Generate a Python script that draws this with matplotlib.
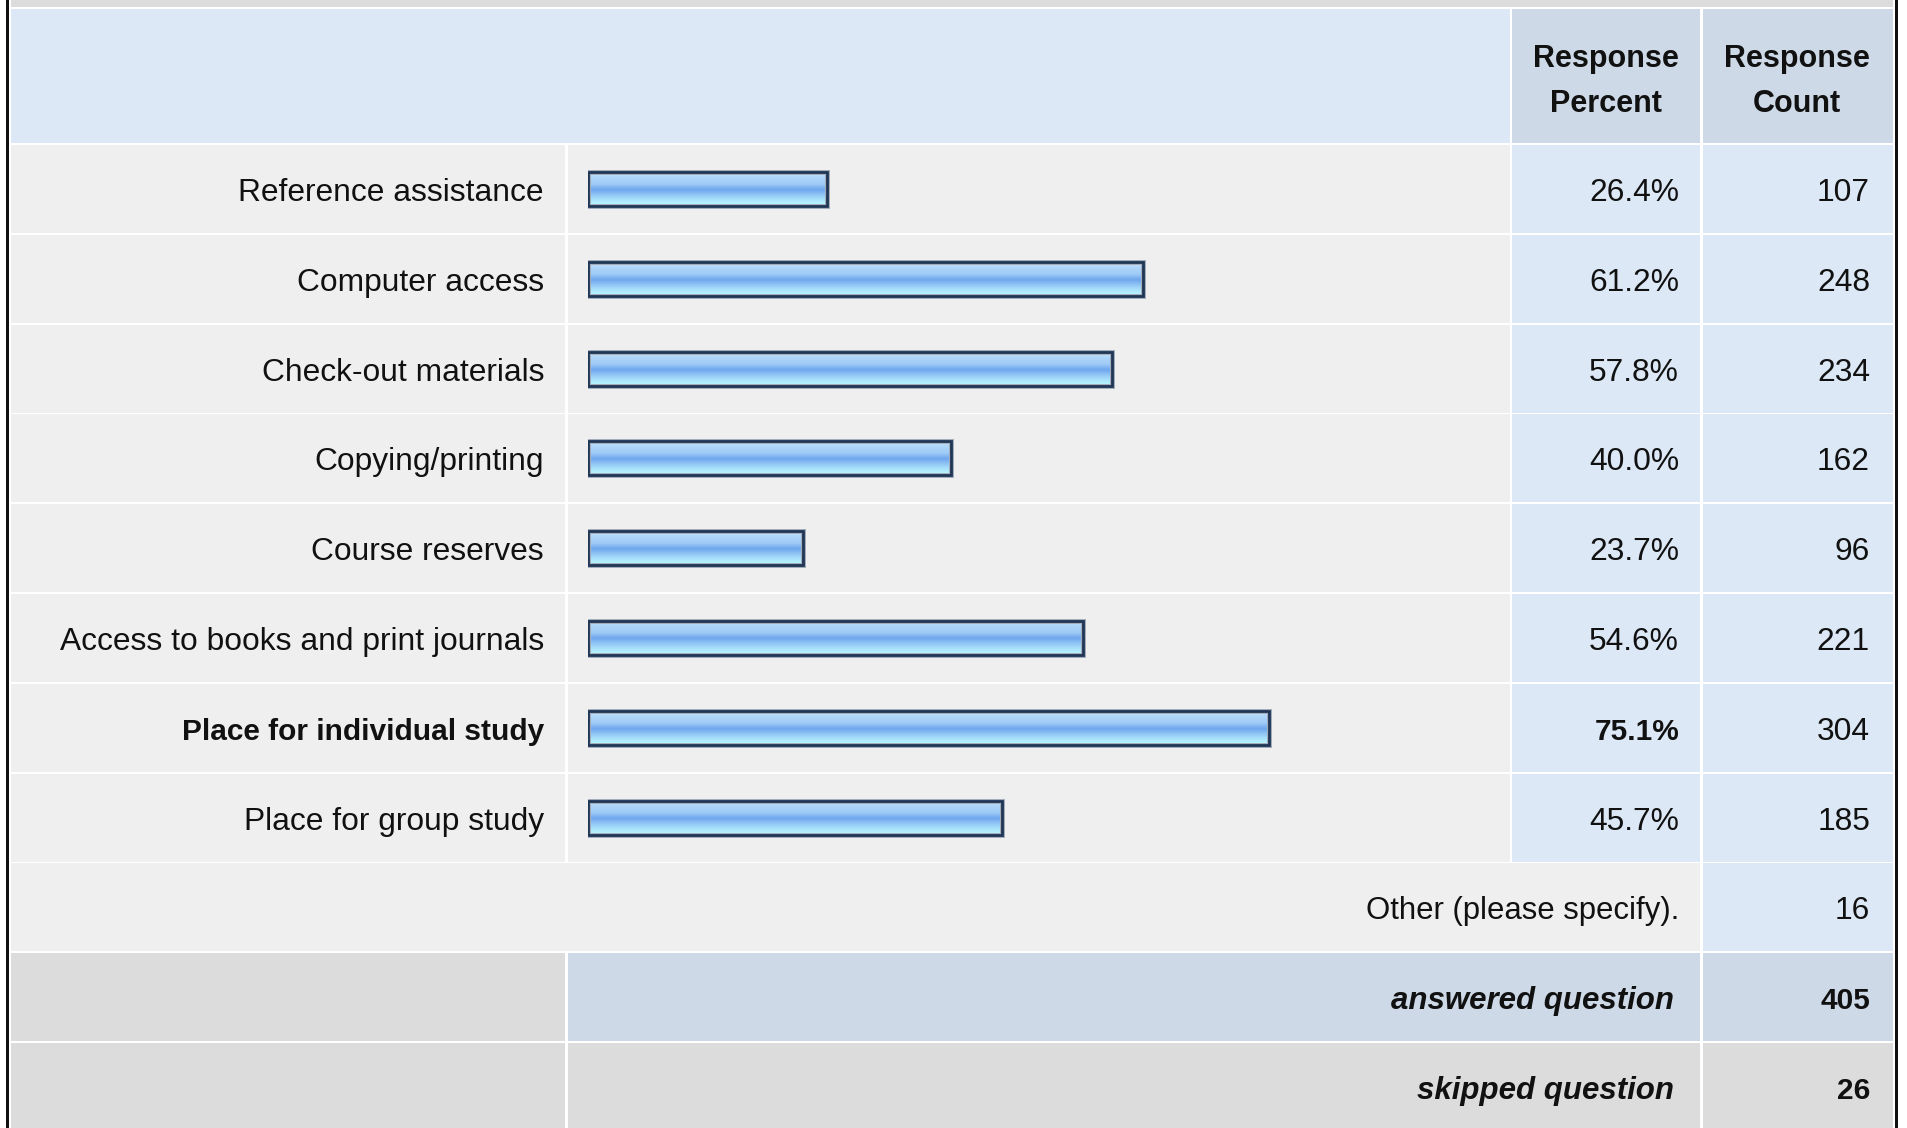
import matplotlib
matplotlib.use("Agg")
import matplotlib.pyplot as plt
import numpy as np
from matplotlib.patches import Rectangle
from matplotlib.colors import LinearSegmentedColormap
import matplotlib.patheffects as pe

# ---------------- data ----------------
categories = [
    "Reference assistance",
    "Computer access",
    "Check-out materials",
    "Copying/printing",
    "Course reserves",
    "Access to books and print journals",
    "Place for individual study",
    "Place for group study",
]
percents = [26.4, 61.2, 57.8, 40.0, 23.7, 54.6, 75.1, 45.7]
counts = [107, 248, 234, 162, 96, 221, 304, 185]
other_label = "Other (please specify)."
other_count = 16
answered_label = "answered question"
answered_count = 405
skipped_label = "skipped question"
skipped_count = 26
header_percent = ["Response", "Percent"]
header_count = ["Response", "Count"]

# ---------------- layout ----------------
W, H = 1907, 1128
FONT = "Liberation Sans"
FS = 22.9        # regular text
FS_B = 21.5      # bold labels / values
FS_H = 22.0      # header
FS_BI = 22.5     # bold italic footer

C_LIGHT = "#efefef"
C_BLUE = "#dce8f5"
C_STEEL = "#cdd9e6"
C_GRAY = "#dcdcdc"
TXT = "#111111"

fig = plt.figure(figsize=(W / 100, H / 100), dpi=100)
fig.patch.set_facecolor("white")
ax = fig.add_axes([0, 0, 1, 1])
ax.set_xlim(0, W)
ax.set_ylim(H, 0)
ax.axis("off")


def cell(x0, x1, y0, y1, color):
    ax.add_patch(Rectangle((x0, y0), x1 - x0, y1 - y0, facecolor=color,
                           edgecolor="none", zorder=1))


L0, L1 = 11, 565
B0, B1 = 568, 1510
P0, P1 = 1512, 1700
C0, C1 = 1703, 1893
ROW_TOP = 145
ROW_STEP = 89.8
ROW_H = 88
CAP_HALF = 12

# outer border lines
ax.add_patch(Rectangle((6, 0), 3, H, facecolor="#111111", edgecolor="none", zorder=5))
ax.add_patch(Rectangle((1895, 0), 3, H, facecolor="#111111", edgecolor="none", zorder=5))

# top band (previous row)
cell(L0, C1, 0, 7, C_GRAY)

# header
cell(L0, B1, 9, 143, C_BLUE)
cell(P0, P1, 9, 143, C_STEEL)
cell(C0, C1, 9, 143, C_STEEL)
for xc, lines in ((1606, header_percent), (1797, header_count)):
    ax.text(xc, 67, lines[0], ha="center", va="baseline", fontsize=FS_H,
            fontweight="bold", family=FONT, color=TXT, zorder=6)
    ax.text(xc, 112, lines[1], ha="center", va="baseline", fontsize=FS_H,
            fontweight="bold", family=FONT, color=TXT, zorder=6)

n = len(categories)
best = int(np.argmax(percents))

for i, (cat, pct, cnt) in enumerate(zip(categories, percents, counts)):
    y0 = ROW_TOP + i * ROW_STEP
    y1 = y0 + ROW_H
    yc = y0 + 44
    cell(L0, L1, y0, y1, C_LIGHT)
    cell(B0, B1, y0, y1, C_LIGHT)
    cell(P0, P1, y0, y1, C_BLUE)
    cell(C0, C1, y0, y1, C_BLUE)
    is_best = i == best
    w = "bold" if is_best else "normal"
    fs = FS_B if is_best else FS
    ax.text(544, yc + CAP_HALF, cat, ha="right", va="baseline", fontsize=fs,
            fontweight=w, family=FONT, color=TXT, zorder=6)
    ax.text(1679, yc + CAP_HALF, f"{pct:.1f}%", ha="right", va="baseline",
            fontsize=fs, fontweight=w, family=FONT, color=TXT, zorder=6)
    ax.text(1870, yc + CAP_HALF, f"{cnt}", ha="right", va="baseline",
            fontsize=FS, family=FONT, color=TXT, zorder=6)

# Other row
y0 = ROW_TOP + n * ROW_STEP
cell(L0, P1, y0, y0 + ROW_H, C_LIGHT)
cell(C0, C1, y0, y0 + ROW_H, C_BLUE)
ax.text(1679, y0 + 44 + CAP_HALF, other_label, ha="right", va="baseline",
        fontsize=22.4, family=FONT, color=TXT, zorder=6)
ax.text(1870, y0 + 44 + CAP_HALF, f"{other_count}", ha="right", va="baseline",
        fontsize=FS, family=FONT, color=TXT, zorder=6)

# answered row
y0 = ROW_TOP + (n + 1) * ROW_STEP
cell(L0, L1, y0, y0 + ROW_H, C_GRAY)
cell(B0, P1, y0, y0 + ROW_H, C_STEEL)
cell(C0, C1, y0, y0 + ROW_H, C_STEEL)
ax.text(1674, y0 + 44 + CAP_HALF, answered_label, ha="right", va="baseline",
        fontsize=FS_BI, fontweight="bold", style="italic", family=FONT,
        color=TXT, zorder=6)
ax.text(1870, y0 + 44 + CAP_HALF, f"{answered_count}", ha="right", va="baseline",
        fontsize=FS_B, fontweight="bold", family=FONT, color=TXT, zorder=6)

# skipped row
y0 = ROW_TOP + (n + 2) * ROW_STEP
cell(L0, L1, y0, y0 + ROW_H, C_GRAY)
cell(B0, P1, y0, y0 + ROW_H, C_GRAY)
cell(C0, C1, y0, y0 + ROW_H, C_GRAY)
ax.text(1674, y0 + 44 + CAP_HALF, skipped_label, ha="right", va="baseline",
        fontsize=FS_BI, fontweight="bold", style="italic", family=FONT,
        color=TXT, zorder=6)
ax.text(1870, y0 + 44 + CAP_HALF, f"{skipped_count}", ha="right", va="baseline",
        fontsize=FS_B, fontweight="bold", family=FONT, color=TXT, zorder=6)

# ---------------- bar axes ----------------
BAR_X0, BAR_X100 = 588, 1495
top_px = ROW_TOP - 0.9
bot_px = top_px + n * ROW_STEP
axb = fig.add_axes([BAR_X0 / W, 1 - bot_px / H, (BAR_X100 - BAR_X0) / W,
                    (bot_px - top_px) / H])
axb.patch.set_visible(False)
axb.axis("off")

bh = 34 / ROW_STEP
ypos = np.arange(n)
bars = axb.barh(ypos, percents, height=bh, left=0, facecolor="none",
                edgecolor="#1f3655", linewidth=2.0, zorder=3)

grad_cmap = LinearSegmentedColormap.from_list(
    "barg",
    [(0.0, "#d2eafd"), (0.12, "#b2d8f9"), (0.35, "#9fcbf6"), (0.52, "#6ea6ee"),
     (0.66, "#8fc3f4"), (0.82, "#a9e2fb"), (1.0, "#bafaff")])
grad = np.linspace(0, 1, 64).reshape(-1, 1)
for yi, b, v in zip(ypos, bars, percents):
    im = axb.imshow(grad, cmap=grad_cmap, aspect="auto", origin="upper",
                    extent=[0, v, yi + bh / 2, yi - bh / 2],
                    interpolation="bilinear", zorder=2)
    im.set_clip_path(b)
    b.set_path_effects([pe.Stroke(linewidth=3.6, foreground="#a3adba"),
                        pe.Normal()])

axb.set_xlim(0, 100)
axb.set_ylim(n - 0.5, -0.5)

fig.savefig("out.png", dpi=100, facecolor="white")
